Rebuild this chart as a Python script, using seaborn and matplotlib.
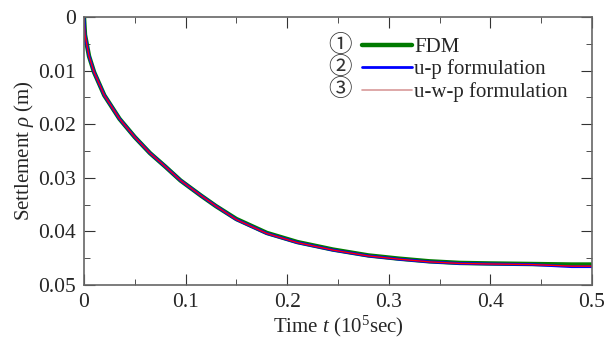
import matplotlib
matplotlib.use("Agg")
import matplotlib.pyplot as plt
import seaborn as sns
import pandas as pd
from matplotlib.lines import Line2D

# --------------------- data ---------------------
time = [0, 0.001, 0.005, 0.01, 0.02, 0.035, 0.05, 0.065, 0.08, 0.095, 0.115, 0.13,
        0.15, 0.18, 0.21, 0.245, 0.28, 0.31, 0.34, 0.37, 0.40, 0.44, 0.48, 0.50]
fdm = [0, 0.0033, 0.0073, 0.0103, 0.0146, 0.0190, 0.0224, 0.0254, 0.0279, 0.0305,
       0.0333, 0.0353, 0.0377, 0.0403, 0.0420, 0.0434, 0.0445, 0.0451, 0.0456,
       0.0459, 0.0460, 0.0461, 0.0462, 0.0462]
up = [0, 0.0033, 0.0073, 0.0103, 0.0146, 0.0190, 0.0224, 0.0254, 0.0279, 0.0305,
      0.0333, 0.0353, 0.0378, 0.0404, 0.0421, 0.0435, 0.0446, 0.0452, 0.0457,
      0.0460, 0.0461, 0.0462, 0.0466, 0.0466]
uwp = [0, 0.0033, 0.0073, 0.0103, 0.0146, 0.0190, 0.0224, 0.0254, 0.0279, 0.0305,
       0.0333, 0.0353, 0.0378, 0.0404, 0.0421, 0.0435, 0.0446, 0.0452, 0.0457,
       0.0460, 0.0461, 0.0462, 0.0465, 0.0465]
labels = ["FDM", "u-p formulation", "u-w-p formulation"]
numbers = ["\u2460", "\u2461", "\u2462"]
xticks = [0, 0.1, 0.2, 0.3, 0.4, 0.5]
xticklabels = ["0", "0.1", "0.2", "0.3", "0.4", "0.5"]
yticks = [0, 0.01, 0.02, 0.03, 0.04, 0.05]
yticklabels = ["0", "0.01", "0.02", "0.03", "0.04", "0.05"]

# --------------------- style ---------------------
sns.set_style("ticks")
plt.rcParams["font.family"] = ["Liberation Serif", "Noto Sans CJK JP"]
plt.rcParams["mathtext.fontset"] = "custom"
plt.rcParams["mathtext.it"] = "Liberation Serif:italic"
plt.rcParams["mathtext.rm"] = "Liberation Serif"

fig, ax = plt.subplots(figsize=(6.04, 3.42), dpi=100)
fig.subplots_adjust(left=0.139, right=0.980, top=0.950, bottom=0.167)

# --------------------- plot ---------------------
df = pd.DataFrame({"t": time, "fdm": fdm, "up": up, "uwp": uwp})
sns.lineplot(data=df, x="t", y="fdm", ax=ax, color="#007a00", lw=3.2)
sns.lineplot(data=df, x="t", y="up", ax=ax, color="#0000ff", lw=2.0)
sns.lineplot(data=df, x="t", y="uwp", ax=ax, color="#ff0000", lw=1.0)

ax.set_xticks(xticks, xticklabels)
ax.set_xticks([0.05, 0.15, 0.25, 0.35, 0.45], minor=True)
ax.set_yticks(yticks, yticklabels)
ax.set_yticks([0.005, 0.015, 0.025, 0.035, 0.045], minor=True)
ax.set_xlim(0, 0.5)
ax.set_ylim(0.05, 0)
ax.tick_params(which="both", direction="in", top=True, right=True,
               labelsize=15.5, color="#333333", pad=6)
ax.tick_params(which="major", length=8)
ax.tick_params(which="minor", length=4)
for sp in ax.spines.values():
    sp.set_color("#666666")
    sp.set_linewidth(1.2)

ax.set_xlabel(r"Time $t$ (10$^{5}$sec)", fontsize=15, labelpad=1)
ax.set_ylabel(r"Settlement $\rho$ (m)", fontsize=15, labelpad=1)

# --------------------- legend ---------------------
handles = [Line2D([], [], color="#007a00", lw=3.2),
           Line2D([], [], color="#0000ff", lw=2.0),
           Line2D([], [], color="#d89a9a", lw=1.2)]
ax.legend(handles, labels, loc="upper left", bbox_to_anchor=(0.531, 0.955),
          frameon=False, fontsize=15, handlelength=2.4, handletextpad=0.1,
          labelspacing=0.12, borderaxespad=0)
for i, num in enumerate(numbers):
    ax.text(0.505, 0.893 - i * 0.083, num, transform=ax.transAxes,
            fontsize=17, ha="center", va="center", color="#333333")

plt.savefig("out.png", dpi=100)
plt.close()
